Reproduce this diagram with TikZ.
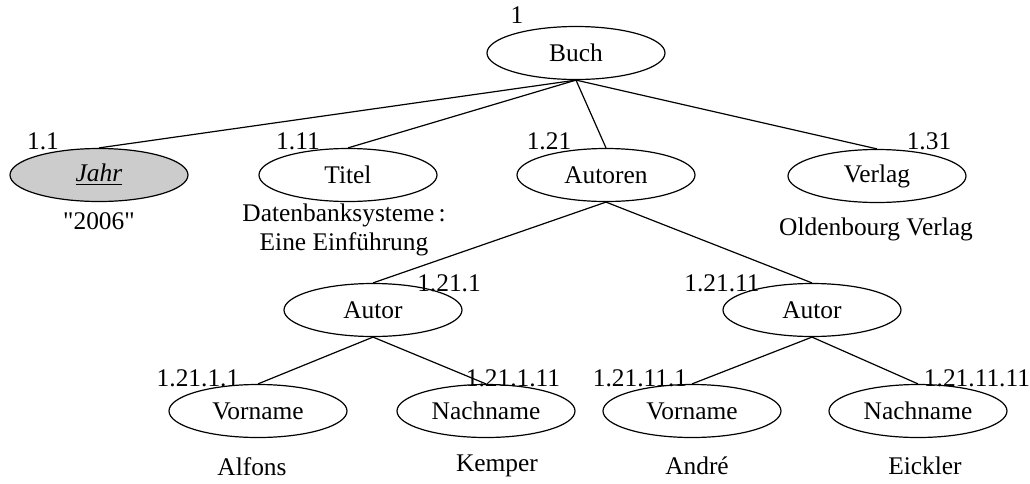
\documentclass[tikz,border=0pt]{standalone}
\usepackage{fontspec}
\setmainfont{Liberation Serif}
\usetikzlibrary{shapes.geometric}
\begin{document}
\begin{tikzpicture}[x=0.5pt,y=-0.5pt,
  every node/.style={font=\fontsize{12.7}{14.5}\selectfont, inner sep=0pt},
  elem/.style={ellipse, draw, line width=0.6pt, minimum width=89pt, minimum height=26.5pt},
  keyelem/.style={elem, fill=black!20},
  num/.style={},
  val/.style={align=center},
  edge/.style={line width=0.6pt}]
\useasboundingbox (0,0) rectangle (1030,483);

% element nodes
\node[elem] (buch) at (576,53) {Buch};
\node[keyelem] (jahr) at (99,175) {\underline{\textit{Jahr}}};
\node[elem] (titel) at (348,175) {Titel};
\node[elem] (autoren) at (606,175) {Autoren};
\node[elem] (verlag) at (877,176) {Verlag};
\node[elem] (autor1) at (373,310) {Autor};
\node[elem] (autor2) at (812,310) {Autor};
\node[elem] (vn1) at (258,411) {Vorname};
\node[elem] (nn1) at (486,411) {Nachname};
\node[elem] (vn2) at (692,411) {Vorname};
\node[elem] (nn2) at (918,411) {Nachname};

% edges
\draw[edge] (buch.south) -- (jahr.north);
\draw[edge] (buch.south) -- (titel.north);
\draw[edge] (buch.south) -- (autoren.north);
\draw[edge] (buch.south) -- (verlag.north);
\draw[edge] (autoren.south) -- (autor1.north);
\draw[edge] (autoren.south) -- (autor2.north);
\draw[edge] (autor1.south) -- (vn1.north);
\draw[edge] (autor1.south) -- (nn1.north);
\draw[edge] (autor2.south) -- (vn2.north);
\draw[edge] (autor2.south) -- (nn2.north);

% numbering labels
\node[num] (n1) at (517,15) {1};
\node[num] (n11) at (43,141) {1.1};
\node[num] (n111) at (298,141) {1.11};
\node[num] (n121) at (549,141) {1.21};
\node[num] (n131) at (929,141) {1.31};
\node[num] (n1211) at (449,283) {1.21.1};
\node[num] (n12111) at (722,283) {1.21.11};
\node[num] (n12111a) at (198,378) {1.21.1.1};
\node[num] (n121111) at (513,378) {1.21.1.11};
\node[num] (n121111a) at (640,378) {1.21.11.1};
\node[num] (n1211111) at (977,378) {1.21.11.11};

% text values
\node[val] (v2006) at (99,221) {\textquotedbl 2006\textquotedbl};
\node[val] (vtitel) at (344,230) {Datenbanksysteme\,:\\Eine Einführung};
\node[val] (vverlag) at (876,229) {Oldenbourg Verlag};
\node[val] (valfons) at (252,467) {Alfons};
\node[val] (vkemper) at (497,466) {Kemper};
\node[val] (vandre) at (697,466) {André};
\node[val] (veickler) at (925,466) {Eickler};
\end{tikzpicture}
\end{document}
